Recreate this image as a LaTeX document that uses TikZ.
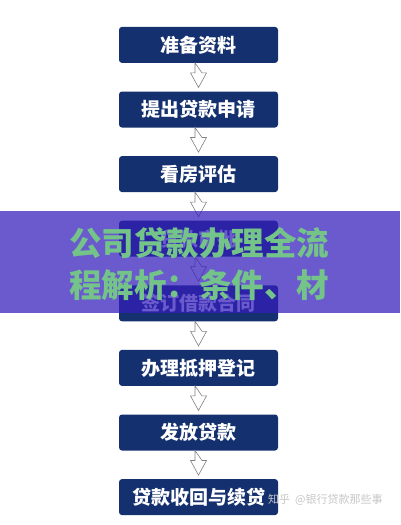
\documentclass[tikz,border=0pt]{standalone}
\usepackage{fontspec}
\usepackage{tikz}
\usetikzlibrary{positioning,matrix,calc}
\newfontfamily\cjk{Noto Sans CJK SC}
\definecolor{navy}{RGB}{20,48,110}
\definecolor{veil}{RGB}{52,30,188}
\definecolor{leaf}{RGB}{116,196,138}

\begin{document}
\begin{tikzpicture}[x=1pt,y=1pt,
		stepbox/.style={fill=navy,text=white,rounded corners=3pt,minimum width=159pt,
			minimum height=36pt,inner sep=0pt,outer sep=0pt,anchor=center,
			font=\cjk\bfseries\fontsize{19}{19}\selectfont},
		hollow/.style={draw=black!50,fill=white,line width=.6pt,line join=miter},
		title/.style={text=leaf,font=\cjk\bfseries\fontsize{32.5}{32.5}\selectfont,inner sep=0pt}]
				\useasboundingbox (0,0) rectangle (400,-525);
				\fill[white] (0,0) rectangle (400,-525);
				\matrix (M) [matrix of nodes,
				row sep=28.6pt,
				inner sep=0pt,
				nodes={stepbox}] at (198.5,-271) {
					准备资料 \\
					提出贷款申请 \\
					看房评估 \\
					贷款审批 \\
					签订借款合同 \\
					办理抵押登记 \\
					发放贷款 \\
					贷款收回与续贷 \\
				};
				\foreach \i [evaluate=\i as \j using int(\i+1)] in {1,...,7}{
					\draw[hollow] ($(M-\i-1.south)+(-3.5,0)$) -- ++(0,-10) -- ++(-4.5,0)
						-- ($(M-\j-1.north)+(0,4)$) -- ($(M-\i-1.south)+(8,-10)$)
						-- ++(-4.5,0) -- cycle;
				}
				% banner over the middle
				\fill[veil,fill opacity=.73] (0,-211) rectangle (400,-313);
				\node[title] (t1) at (199,-243) {公司贷款办理全流};
				\node[title] (t2) at (199,-285) {程解析：条件、材};
				\node[text=black!22,font=\cjk\fontsize{11}{11}\selectfont,anchor=west,inner sep=0pt]
					(wm) at (268,-500) {知乎\ \ @银行贷款那些事};
\end{tikzpicture}
\end{document}
